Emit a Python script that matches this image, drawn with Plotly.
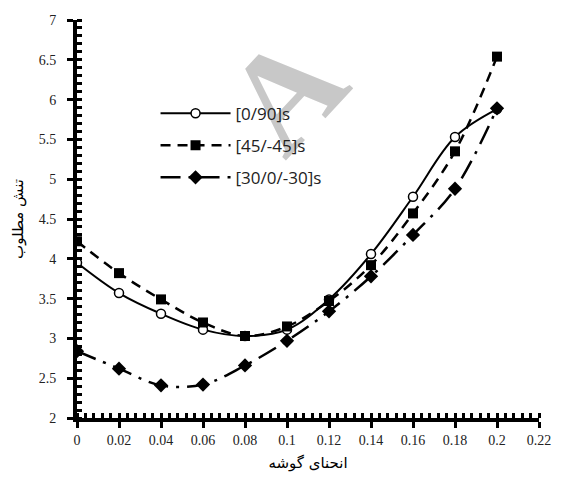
import plotly.graph_objects as go

# Corner curvature values (x axis)
curvature = [0.0, 0.02, 0.04, 0.06, 0.08, 0.10, 0.12, 0.14, 0.16, 0.18, 0.20]

# Required stress for each layup
stress_0_90 = [3.95, 3.57, 3.31, 3.11, 3.03, 3.11, 3.49, 4.06, 4.78, 5.53, 5.88]
stress_45 = [4.22, 3.82, 3.49, 3.20, 3.03, 3.15, 3.47, 3.92, 4.57, 5.35, 6.54]
stress_30 = [2.84, 2.62, 2.41, 2.42, 2.66, 2.97, 3.34, 3.78, 4.30, 4.88, 5.89]

series_names = ["[0/90]s", "[45/-45]s", "[30/0/-30]s"]

x_ticks = [0, 0.02, 0.04, 0.06, 0.08, 0.1, 0.12, 0.14, 0.16, 0.18, 0.2, 0.22]
x_tick_text = ["0", "0.02", "0.04", "0.06", "0.08", "0.1", "0.12", "0.14", "0.16", "0.18", "0.2", "0.22"]
y_ticks = [2, 2.5, 3, 3.5, 4, 4.5, 5, 5.5, 6, 6.5, 7]
y_tick_text = ["2", "2.5", "3", "3.5", "4", "4.5", "5", "5.5", "6", "6.5", "7"]

x_title = "انحنای گوشه"
y_title = "تنش مطلوب"

W, H = 563, 482
M = dict(l=77, r=14, t=20, b=63)
PW, PH = W - M["l"] - M["r"], H - M["t"] - M["b"]


def paper_x(px):
    return (px - M["l"]) / PW


def paper_y(py):
    return 1 - (py - M["t"]) / PH


fig = go.Figure()

fig.add_trace(go.Scatter(
    x=curvature, y=stress_0_90, name=series_names[0], legendgroup="a",
    mode="lines+markers", line=dict(color="black", width=2, shape="spline", smoothing=1),
    marker=dict(symbol="circle", size=9, color="white", line=dict(color="black", width=1.5)),
))
fig.add_trace(go.Scatter(
    x=curvature, y=stress_45, name=series_names[1], legendgroup="b",
    mode="lines+markers", line=dict(color="black", width=2.5, dash="10px,7px", shape="spline", smoothing=1),
    marker=dict(symbol="square", size=10, color="black"),
))
fig.add_trace(go.Scatter(
    x=curvature, y=stress_30, name=series_names[2], legendgroup="c",
    mode="lines+markers", line=dict(color="black", width=2.5, dash="20px,8px,3px,8px", shape="spline", smoothing=1),
    marker=dict(symbol="diamond", size=11, color="black"),
))

tick_font = dict(family="Liberation Serif, Times New Roman, serif", size=14, color="#222")
title_font = dict(family="DejaVu Sans", size=15, color="black")

axis_common = dict(showgrid=False, zeroline=False, showline=True, linecolor="black", linewidth=4,
                   ticks="outside", ticklen=6, tickwidth=3, tickcolor="black", tickfont=tick_font)

fig.update_layout(
    width=W, height=H, margin=M,
    paper_bgcolor="white", plot_bgcolor="white",
    xaxis=dict(range=[0, 0.22], tickvals=x_ticks, ticktext=x_tick_text,
               minor=dict(ticks="inside", dtick=0.004, tick0=0, ticklen=5, tickwidth=3, tickcolor="black"),
               title=dict(text=x_title, font=title_font, standoff=12),
               **axis_common),
    yaxis=dict(range=[2, 7], tickvals=y_ticks, ticktext=y_tick_text,
               minor=dict(ticks="inside", dtick=0.1, tick0=2, ticklen=5, tickwidth=3, tickcolor="black"),
               title=dict(text=y_title, font=title_font, standoff=12),
               ticklabelstandoff=8,
               **axis_common),
    # inner halves of the major ticks, so they cross the axis line
    xaxis2=dict(overlaying="x", anchor="y", side="bottom", range=[0, 0.22], tickvals=x_ticks,
                showticklabels=False, showgrid=False, zeroline=False, showline=False,
                ticks="inside", ticklen=7, tickwidth=3, tickcolor="black"),
    yaxis2=dict(overlaying="y", anchor="x", side="left", range=[2, 7], tickvals=y_ticks,
                showticklabels=False, showgrid=False, zeroline=False, showline=False,
                ticks="inside", ticklen=7, tickwidth=3, tickcolor="black"),
    legend=dict(x=0.17, y=0.81, xanchor="left", yanchor="top", bgcolor="rgba(0,0,0,0)",
                font=dict(family="Open Sans", size=17, color="#222"),
                traceorder="grouped", tracegroupgap=7, itemwidth=70),
    showlegend=True,
)

# faint diagonal watermark letter, kept beneath the data and legend
cx, cy = 278, 82
fig.add_shape(
    type="rect", xref="paper", yref="paper",
    x0=paper_x(cx - 10), x1=paper_x(cx + 10), y0=paper_y(cy + 10), y1=paper_y(cy - 10),
    line=dict(width=0), fillcolor="rgba(0,0,0,0)", layer="below",
    label=dict(text="A", textangle=-47, textposition="middle center",
               font=dict(family="Liberation Serif", size=140, color="#c8c8c8", weight="bold")),
)

fig.write_html("out.html")
